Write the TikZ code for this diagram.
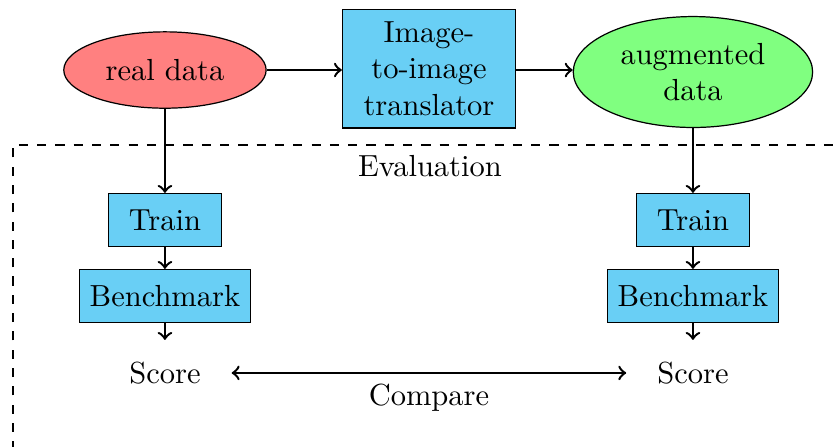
\documentclass[tikz,border=0pt]{standalone}
\usepackage{tikz}
\usetikzlibrary{shapes.geometric}
\pgfdeclarelayer{edgelayer}
\pgfdeclarelayer{nodelayer}
\pgfsetlayers{edgelayer,nodelayer,main}
\definecolor{boxblue}{RGB}{105,207,245}
\tikzstyle{realdata}=[ellipse,fill=red!50,draw=black,minimum height=0.88cm,inner xsep=4pt]
\tikzstyle{augdata}=[ellipse,fill=green!50,draw=black,align=center,inner xsep=4pt]
\tikzstyle{box}=[rectangle,fill=boxblue,draw=black,minimum width=1.3cm,minimum height=0.61cm]
\tikzstyle{translator}=[rectangle,fill=boxblue,draw=black,text width=1.76cm,align=center,inner ysep=4pt]
\tikzstyle{score}=[inner xsep=10pt,inner ysep=7pt]
\tikzstyle{plain}=[]
\tikzstyle{arrow}=[->,thick]
\tikzstyle{frame}=[dashed]

\begin{document}
\begin{tikzpicture}
					\useasboundingbox (0.000,0.000) rectangle (9.646,-5.140);
					\begin{pgfonlayer}{nodelayer}
						\node [style=realdata] (0) at (1.901,-0.807) {real data};
						\node [style=translator] (1) at (4.944,-0.790) {Image-\\to-image\\translator};
						\node [style=augdata] (2) at (7.986,-0.830) {augmented\\data};
						\node [style=box] (3) at (1.901,-2.535) {Train};
						\node [style=box] (4) at (1.901,-3.411) {Benchmark};
						\node [style=score] (5) at (1.901,-4.298) {Score};
						\node [style=box] (6) at (7.986,-2.535) {Train};
						\node [style=box] (7) at (7.986,-3.411) {Benchmark};
						\node [style=score] (8) at (7.986,-4.298) {Score};
						\node [style=plain] (9) at (4.955,-1.913) {Evaluation};
					\end{pgfonlayer}
					\begin{pgfonlayer}{edgelayer}
						\draw [style=frame] (0.150,-5.400) -- (0.150,-1.671) -- (9.800,-1.671);
						\draw [style=arrow] (0) -- (0 -| 1.west);
						\draw [style=arrow] (1.east |- 0) -- (0 -| 2.west);
						\draw [style=arrow] (0) -- (3);
						\draw [style=arrow] (3) -- (4);
						\draw [style=arrow] (4) -- (5);
						\draw [style=arrow] (2) -- (6);
						\draw [style=arrow] (6) -- (7);
						\draw [style=arrow] (7) -- (8);
						\draw [style=arrow,<->] (5) -- node [below] (10) {Compare} (8);
					\end{pgfonlayer}
				\end{tikzpicture}
\end{document}
